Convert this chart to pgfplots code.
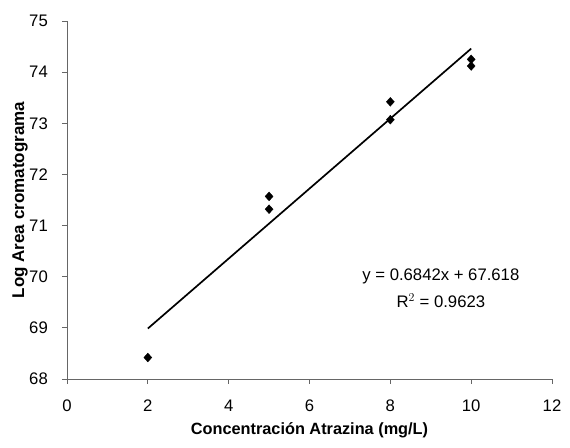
\documentclass[border=0pt]{standalone}
\usepackage{pgfplots}
\pgfplotsset{compat=1.18}
\usepackage{fontspec}
\setmainfont{Liberation Sans}
\begin{document}
\begin{tikzpicture}
\begin{axis}[
  scale only axis,
  width=485pt, height=358pt,
  xmin=0, xmax=12, ymin=68, ymax=75,
  xtick={0,2,...,12}, ytick={68,69,...,75},
  axis x line*=bottom, axis y line*=left,
  axis line style={draw=gray!80!black, line width=0.9pt},
  tick style={draw=gray!80!black, line width=0.9pt},
  tick align=outside, major tick length=5pt,
  /pgf/number format/assume math mode=true,
  ticklabel style={font=\fontsize{16.7}{19}\selectfont},
  x tick label style={anchor=center, yshift=-22pt},
  y tick label style={anchor=east, inner sep=0pt, xshift=-14pt},
  xlabel={Concentración Atrazina (mg/L)},
  ylabel={Log Area cromatograma},
  every axis x label/.style={at={(axis description cs:0.5,0)}, anchor=center, yshift=-51pt, font=\fontsize{16.3}{19}\selectfont\bfseries},
  every axis y label/.style={at={(axis description cs:0,0.5)}, rotate=90, anchor=center, yshift=47pt, font=\fontsize{17}{19}\selectfont\bfseries},
  clip=false,
]
\addplot[only marks, mark=diamond*, mark size=4.4pt, mark options={fill=black, draw=black, xscale=1.2}] coordinates {
  (2,68.42) (5,71.57) (5,71.32) (8,73.42) (8,73.07) (10,74.25) (10,74.12)
};
\addplot[black, line width=1.7pt] coordinates {(2,68.9864) (10,74.46)};
\node[align=center, font=\fontsize{16.7}{27}\selectfont] at (axis cs:9.25,69.77) {y = 0.6842x + 67.618\\R$^{2}$ = 0.9623};
\end{axis}
\pgfresetboundingbox
\useasboundingbox ([shift={(-67pt,-69pt)}]current axis.south west) rectangle ([shift={(18pt,21pt)}]current axis.north east);
\end{tikzpicture}
\end{document}
